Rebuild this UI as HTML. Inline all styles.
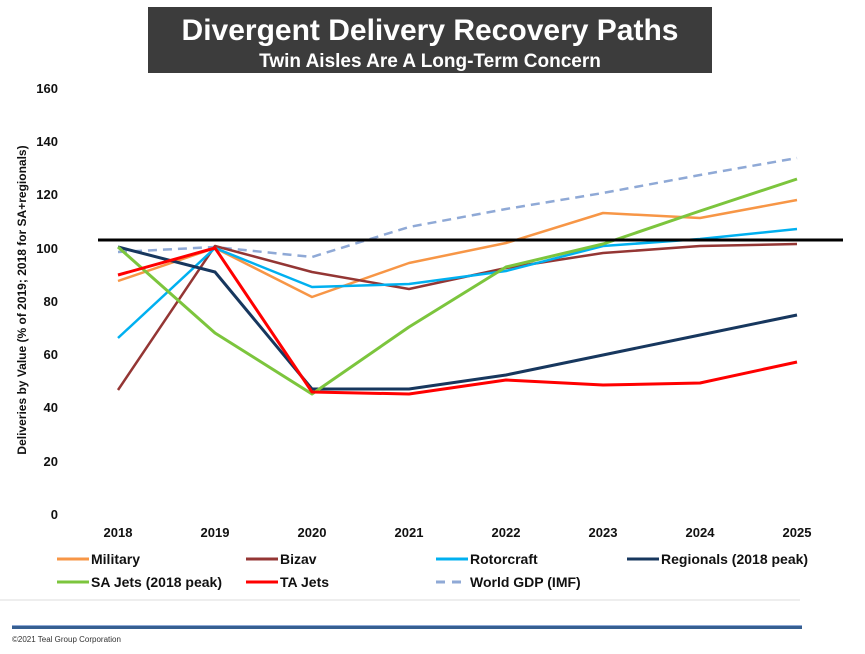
<!DOCTYPE html>
<html><head><meta charset="utf-8"><style>
body{margin:0;background:#fff;width:865px;height:649px;overflow:hidden;font-family:"Liberation Sans",Arial,sans-serif}
</style></head><body>
<svg width="865" height="649" xmlns="http://www.w3.org/2000/svg" font-family="Liberation Sans, Arial, sans-serif">
<rect x="148" y="7" width="564" height="66" fill="#3c3c3c"/>
<text x="430" y="40" text-anchor="middle" fill="#fff" font-size="30" font-weight="bold">Divergent Delivery Recovery Paths</text>
<text x="430" y="67" text-anchor="middle" fill="#fff" font-size="19" font-weight="bold">Twin Aisles Are A Long-Term Concern</text>
<g font-size="13" font-weight="bold" fill="#111" text-anchor="end">
<text x="58" y="519">0</text><text x="58" y="466">20</text><text x="58" y="412">40</text><text x="58" y="359">60</text><text x="58" y="306">80</text><text x="58" y="253">100</text><text x="58" y="199">120</text><text x="58" y="146">140</text><text x="58" y="93">160</text>
</g>
<text transform="translate(26,300) rotate(-90)" text-anchor="middle" font-size="12" font-weight="bold" fill="#111">Deliveries by Value (% of 2019; 2018 for SA+regionals)</text>
<g font-size="13" font-weight="bold" fill="#111" text-anchor="middle">
<text x="118" y="537">2018</text><text x="215" y="537">2019</text><text x="312" y="537">2020</text><text x="409" y="537">2021</text><text x="506" y="537">2022</text><text x="603" y="537">2023</text><text x="700" y="537">2024</text><text x="797" y="537">2025</text>
</g>
<g fill="none" stroke-width="2.5" stroke-linejoin="round">
<polyline stroke="#8fa9d6" stroke-dasharray="9,6" points="118,252 215,247 312,257 409,227 506,209 603,193 700,175 797,158"/>
<polyline stroke="#f79646" points="118,281 215,248 312,297 409,263 506,243 603,213 700,218 797,200"/>
<polyline stroke="#943634" points="118,390 215,246 312,272 409,289 506,268 603,253 700,246 797,244"/>
<polyline stroke="#00b0f0" points="118,338 215,248 312,287 409,284 506,271 603,246 700,239 797,229"/>
<polyline stroke="#17375e" stroke-width="3" points="118,247 215,272 312,389 409,389 506,375 603,355 700,335 797,315"/>
<polyline stroke="#7cc53d" stroke-width="3" points="118,247 215,333 312,394 409,327 506,267 603,244 700,211 797,179"/>
<polyline stroke="#ff0000" stroke-width="3" points="118,275 215,248 312,392 409,394 506,380 603,385 700,383 797,362"/>
</g>
<line x1="98" y1="240" x2="843" y2="240" stroke="#000" stroke-width="3"/>
<g font-size="14" font-weight="bold" fill="#111" stroke-width="3">
<line x1="57" y1="559" x2="89" y2="559" stroke="#f79646"/><text x="91" y="564">Military</text>
<line x1="246" y1="559" x2="278" y2="559" stroke="#943634"/><text x="280" y="564">Bizav</text>
<line x1="436" y1="559" x2="468" y2="559" stroke="#00b0f0"/><text x="470" y="564">Rotorcraft</text>
<line x1="627" y1="559" x2="659" y2="559" stroke="#17375e"/><text x="661" y="564">Regionals (2018 peak)</text>
<line x1="57" y1="582" x2="89" y2="582" stroke="#7cc53d"/><text x="91" y="587">SA Jets (2018 peak)</text>
<line x1="246" y1="582" x2="278" y2="582" stroke="#ff0000"/><text x="280" y="587">TA Jets</text>
<line x1="436" y1="582" x2="468" y2="582" stroke="#8fa9d6" stroke-dasharray="9,7"/><text x="470" y="587">World GDP (IMF)</text>
</g>
<line x1="0" y1="600" x2="800" y2="600" stroke="#eee" stroke-width="2"/>
<rect x="12" y="625" width="790" height="4" fill="#365f91"/>
<rect x="12" y="625" width="790" height="1" fill="#8fa9d6"/>
<text x="12" y="642" font-size="8" fill="#333">©2021 Teal Group Corporation</text>
</svg>
</body></html>
